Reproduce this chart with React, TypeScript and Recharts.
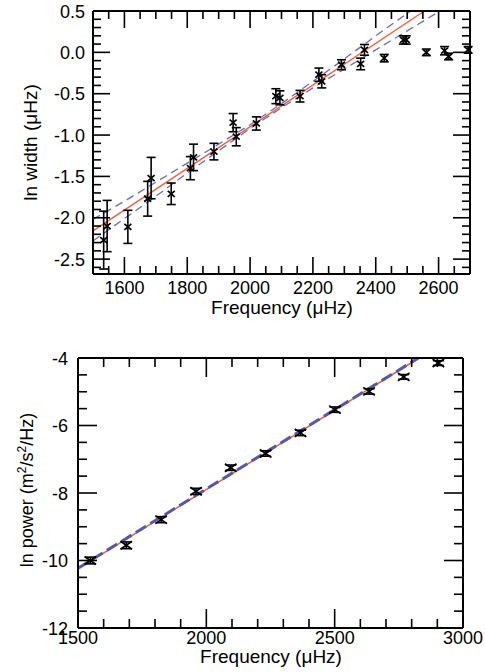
import { ComposedChart, Line, Scatter, ErrorBar, XAxis, YAxis } from 'recharts';

// ---- top panel: ln width vs frequency ----
const widthFreq = [1534, 1545, 1611, 1674, 1685, 1749, 1810, 1820, 1885, 1946, 1956, 2020, 2082, 2095, 2159, 2219, 2228, 2291, 2352, 2364, 2427, 2488, 2497, 2561, 2619, 2632, 2694];
const lnWidth = [-2.27, -2.1, -2.11, -1.77, -1.52, -1.71, -1.4, -1.27, -1.2, -0.85, -1.02, -0.86, -0.53, -0.55, -0.53, -0.27, -0.35, -0.15, -0.14, 0.03, -0.07, 0.15, 0.15, 0.0, 0.02, -0.05, 0.03];
const widthErr = [0.35, 0.31, 0.2, 0.21, 0.25, 0.13, 0.14, 0.16, 0.1, 0.11, 0.11, 0.08, 0.09, 0.085, 0.07, 0.08, 0.08, 0.06, 0.07, 0.065, 0.045, 0.05, 0.05, 0.04, 0.05, 0.04, 0.04];

const widthFitFreq = [1500, 2555];
const widthFit = [-2.16, 0.5];
const widthUpperFreq = [1500, 1600, 1700, 1800, 1900, 2000, 2100, 2200, 2300, 2400, 2500, 2511];
const widthUpper = [-2.02, -1.8, -1.57, -1.34, -1.11, -0.875, -0.62, -0.35, -0.08, 0.2, 0.47, 0.5];
const widthLowerFreq = [1500, 1600, 1700, 1800, 1900, 2000, 2100, 2200, 2300, 2400, 2500, 2600, 2605];
const widthLower = [-2.28, -2.01, -1.74, -1.46, -1.19, -0.92, -0.67, -0.43, -0.2, 0.03, 0.26, 0.49, 0.5];

const widthXDomain: [number, number] = [1500, 2700];
const widthYDomain: [number, number] = [-2.68, 0.5];
const widthMajorX = [1600, 1800, 2000, 2200, 2400, 2600];
const widthMinorX = [1550, 1650, 1700, 1750, 1850, 1900, 1950, 2050, 2100, 2150, 2250, 2300, 2350, 2450, 2500, 2550, 2650];
const widthMajorY = [-2.5, -2.0, -1.5, -1.0, -0.5, 0.0, 0.5];
const widthMinorY = [-2.6, -2.4, -2.3, -2.2, -2.1, -1.9, -1.8, -1.7, -1.6, -1.4, -1.3, -1.2, -1.1, -0.9, -0.8, -0.7, -0.6, -0.4, -0.3, -0.2, -0.1, 0.1, 0.2, 0.3, 0.4];

// ---- bottom panel: ln power vs frequency ----
const powerFreq = [1548, 1688, 1824, 1960, 2095, 2231, 2367, 2501, 2634, 2769, 2904];
const lnPower = [-10.0, -9.55, -8.79, -7.95, -7.25, -6.83, -6.22, -5.53, -4.99, -4.56, -4.15];
const powerErr = [0.1, 0.1, 0.09, 0.09, 0.08, 0.08, 0.08, 0.08, 0.08, 0.07, 0.07];

const powerFitFreq = [1500, 2829];
const powerFit = [-10.25, -4];
const powerModelFreq = [1500, 2826];
const powerModel = [-10.23, -4];

const powerXDomain: [number, number] = [1500, 3000];
const powerYDomain: [number, number] = [-12, -4];
const powerMajorX = [1500, 2000, 2500, 3000];
const powerMinorX = [1600, 1700, 1800, 1900, 2100, 2200, 2300, 2400, 2600, 2700, 2800, 2900];
const powerMajorY = [-12, -10, -8, -6, -4];
const powerMinorY = [-11.5, -11, -10.5, -9.5, -9, -8.5, -7.5, -7, -6.5, -5.5, -5, -4.5];

const FONT = '"Liberation Sans", Arial, Helvetica, sans-serif';

const toRows = (xs: number[], ys: number[], errs?: number[]) =>
  xs.map((f, i) => ({ f, v: ys[i], err: errs ? errs[i] : 0 }));

// tick marks placed on the frame through the chart's scales
const xTickRows = (ticks: number[], y: number) => ticks.map((f) => ({ f, v: y }));
const yTickRows = (ticks: number[], x: number) => ticks.map((v) => ({ f: x, v }));

const tickShape = (dx: number, dy: number) => (props: any) => (
  <path d={`M${props.cx},${props.cy}l${dx},${dy}`} stroke="#000" strokeWidth={1.6} fill="none" />
);

const crossShape = (hw: number, hh: number) => (props: any) => {
  const { cx, cy } = props;
  return (
    <path
      d={`M${cx - hw},${cy - hh}L${cx + hw},${cy + hh}M${cx - hw},${cy + hh}L${cx + hw},${cy - hh}`}
      stroke="#000"
      strokeWidth={1.7}
      fill="none"
    />
  );
};

const frame = { stroke: '#000', strokeWidth: 2 };

const bottomLabel = (gap: number) => (props: any) => (
  <text x={props.x} y={Number(props.y) + gap} textAnchor="middle" fontSize={18} fontFamily={FONT} fill="#000">
    {String(props.payload.value)}
  </text>
);
const leftLabel = (gap: number, fmt: (v: number) => string) => (props: any) => (
  <text x={Number(props.x) - gap} y={Number(props.y) + 6.5} textAnchor="end" fontSize={18} fontFamily={FONT} fill="#000">
    {fmt(props.payload.value)}
  </text>
);

function tickSeries(xd: [number, number], yd: [number, number], majorX: number[], minorX: number[], majorY: number[], minorY: number[], big: number, small: number) {
  const sets: [any[], number, number][] = [
    [xTickRows(majorX, yd[0]), 0, -big],
    [xTickRows(minorX, yd[0]), 0, -small],
    [xTickRows(majorX, yd[1]), 0, big],
    [xTickRows(minorX, yd[1]), 0, small],
    [yTickRows(majorY, xd[0]), big, 0],
    [yTickRows(minorY, xd[0]), small, 0],
    [yTickRows(majorY, xd[1]), -big, 0],
    [yTickRows(minorY, xd[1]), -small, 0],
  ];
  return sets.map(([rows, dx, dy], i) => (
    <Scatter key={`tick${i}`} data={rows} dataKey="v" shape={tickShape(dx, dy)} isAnimationActive={false} />
  ));
}

function WidthChart() {
  return (
    <ComposedChart width={485} height={330} margin={{ top: 10, right: 14, bottom: 26, left: 33 }}>
      <XAxis dataKey="f" type="number" domain={widthXDomain} ticks={widthMajorX} interval={0} height={30}
        tickSize={0} tickMargin={0} tickLine={false} axisLine={frame} tick={bottomLabel(20)} />
      <XAxis xAxisId="top" orientation="top" type="number" domain={widthXDomain} ticks={widthMajorX} height={1}
        tickLine={false} axisLine={frame} tick={false} />
      <YAxis type="number" domain={widthYDomain} ticks={widthMajorY} interval={0} width={60}
        tickSize={0} tickMargin={0} tickLine={false} axisLine={frame} tick={leftLabel(8, (v) => v.toFixed(1))} />
      <YAxis yAxisId="right" orientation="right" type="number" domain={widthYDomain} ticks={widthMajorY} width={1}
        tickLine={false} axisLine={frame} tick={false} />
      {tickSeries(widthXDomain, widthYDomain, widthMajorX, widthMinorX, widthMajorY, widthMinorY, 17, 8)}
      <Line data={toRows(widthUpperFreq, widthUpper)} dataKey="v" stroke="#6c6cb8" strokeWidth={1.3} strokeDasharray="8 5" dot={false} isAnimationActive={false} />
      <Line data={toRows(widthLowerFreq, widthLower)} dataKey="v" stroke="#6c6cb8" strokeWidth={1.3} strokeDasharray="8 5" dot={false} isAnimationActive={false} />
      <Line data={toRows(widthFitFreq, widthFit)} dataKey="v" stroke="#f0603e" strokeWidth={1.5} dot={false} isAnimationActive={false} />
      <Scatter data={toRows(widthFreq, lnWidth, widthErr)} dataKey="v" shape={crossShape(3.5, 3)} isAnimationActive={false}>
        <ErrorBar dataKey="err" direction="y" width={4.5} stroke="#000" strokeWidth={1.6} isAnimationActive={false} />
      </Scatter>
    </ComposedChart>
  );
}

function PowerChart() {
  return (
    <ComposedChart width={485} height={342} margin={{ top: 27, right: 21, bottom: 14, left: 18 }}>
      <XAxis dataKey="f" type="number" domain={powerXDomain} ticks={powerMajorX} interval={0} height={30}
        tickSize={0} tickMargin={0} tickLine={false} axisLine={frame} tick={bottomLabel(16)} />
      <XAxis xAxisId="top" orientation="top" type="number" domain={powerXDomain} ticks={powerMajorX} height={1}
        tickLine={false} axisLine={frame} tick={false} />
      <YAxis type="number" domain={powerYDomain} ticks={powerMajorY} interval={0} width={60}
        tickSize={0} tickMargin={0} tickLine={false} axisLine={frame} tick={leftLabel(10, String)} />
      <YAxis yAxisId="right" orientation="right" type="number" domain={powerYDomain} ticks={powerMajorY} width={1}
        tickLine={false} axisLine={frame} tick={false} />
      {tickSeries(powerXDomain, powerYDomain, powerMajorX, powerMinorX, powerMajorY, powerMinorY, 19, 9)}
      <Line data={toRows(powerFitFreq, powerFit)} dataKey="v" stroke="#f0603e" strokeWidth={1.5} dot={false} isAnimationActive={false} />
      <Line data={toRows(powerModelFreq, powerModel)} dataKey="v" stroke="#5858a8" strokeWidth={3} strokeDasharray="12 5" dot={false} isAnimationActive={false} />
      <Scatter data={toRows(powerFreq, lnPower, powerErr)} dataKey="v" shape={crossShape(5.8, 4)} isAnimationActive={false}>
        <ErrorBar dataKey="err" direction="y" width={5.5} stroke="#000" strokeWidth={1.6} isAnimationActive={false} />
      </Scatter>
    </ComposedChart>
  );
}

export default function App() {
  return (
    <div style={{ position: 'absolute', left: 0, top: 0, width: 485, height: 672, background: '#fff' }}>
      <div style={{ position: 'absolute', left: 0, top: 0 }}>
        <WidthChart />
      </div>
      <div style={{ position: 'absolute', left: 0, top: 330 }}>
        <PowerChart />
      </div>
      <svg width={485} height={672} style={{ position: 'absolute', left: 0, top: 0, pointerEvents: 'none' }} fontFamily={FONT} fill="#000">
        <text x={282} y={314} textAnchor="middle" fontSize={19}>Frequency (μHz)</text>
        <text x={37} y={142.5} textAnchor="middle" fontSize={19} transform="rotate(-90 37 142.5)">ln width (μHz)</text>
        <text x={271} y={663} textAnchor="middle" fontSize={19}>Frequency (μHz)</text>
        <text x={33} y={490} textAnchor="middle" fontSize={18} transform="rotate(-90 33 490)">
          ln power (m<tspan dy={-7} fontSize={12}>2</tspan><tspan dy={7}>/s</tspan><tspan dy={-7} fontSize={12}>2</tspan><tspan dy={7}>/Hz)</tspan>
        </text>
      </svg>
    </div>
  );
}
